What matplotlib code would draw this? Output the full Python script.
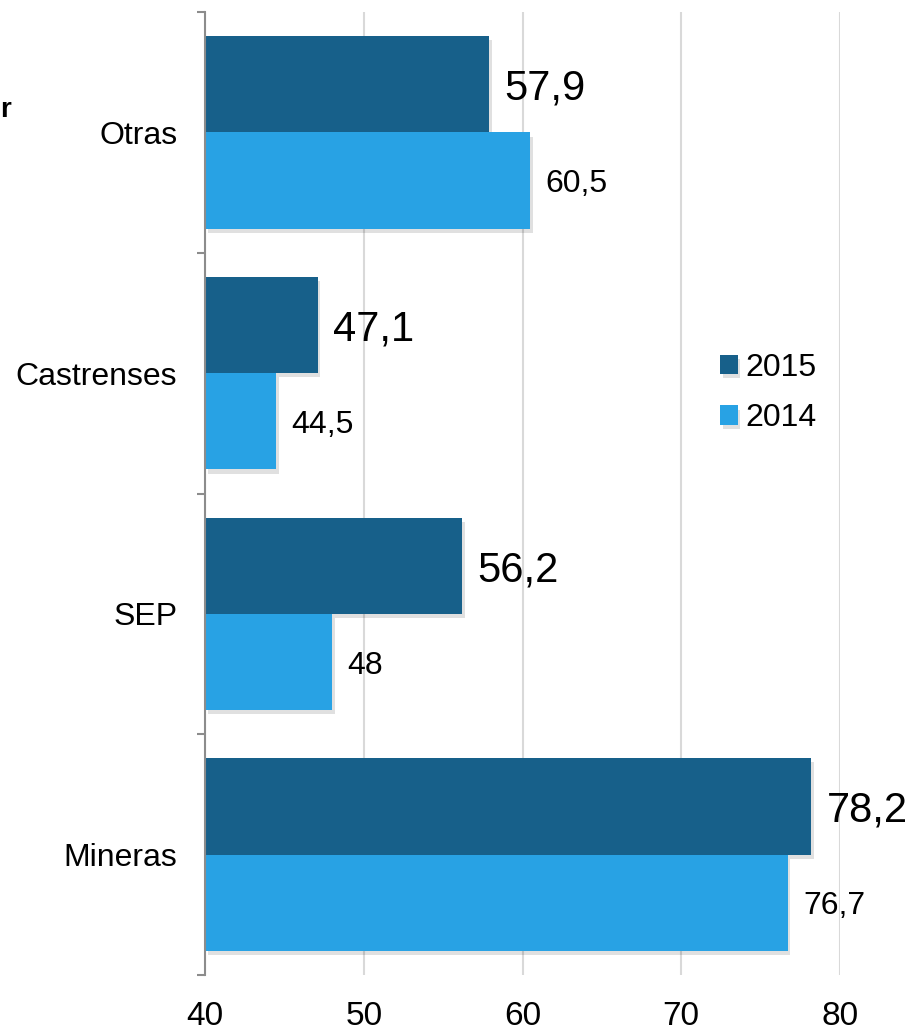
import matplotlib
matplotlib.use("Agg")
import matplotlib.pyplot as plt
import matplotlib.patheffects as pe
from matplotlib import font_manager

categories = ["Mineras", "SEP", "Castrenses", "Otras"]
values_2015 = [78.2, 56.2, 47.1, 57.9]
values_2014 = [76.7, 48.0, 44.5, 60.5]
x_ticks = [40, 50, 60, 70, 80]

dark = "#17608A"
light = "#28A2E4"

plt.rcParams["font.family"] = ["Liberation Sans", "DejaVu Sans"]
names = {f.name for f in font_manager.fontManager.ttflist}
narrow = "Liberation Sans Narrow" if "Liberation Sans Narrow" in names else "Liberation Sans"


def fmt(v):
    return ("%g" % v).replace(".", ",")


fig = plt.figure(figsize=(9.1, 10.32), dpi=100)
ax = fig.add_axes([205 / 910, 1 - 975 / 1032, 635 / 910, 963 / 1032])

ys = list(range(len(categories)))
h = 0.4
shadow = [pe.SimplePatchShadow(offset=(2, -3), alpha=0.12, shadow_rgbFace="black"), pe.Normal()]
b15 = ax.barh([y + h / 2 for y in ys], [v - 40 for v in values_2015], left=40, height=h,
              color=dark, label="2015", zorder=3)
b14 = ax.barh([y - h / 2 for y in ys], [v - 40 for v in values_2014], left=40, height=h,
              color=light, label="2014", zorder=3)
for p in list(b15) + list(b14):
    p.set_path_effects(shadow)

for y, v in zip(ys, values_2015):
    ax.annotate(fmt(v), (v, y + h / 2), xytext=(11, 0), textcoords="offset points",
                va="center_baseline", ha="left", fontsize=30, zorder=5)
for y, v in zip(ys, values_2014):
    ax.annotate(fmt(v), (v, y - h / 2), xytext=(11, 0), textcoords="offset points",
                va="center_baseline", ha="left", fontsize=23, zorder=5)

ax.set_xlim(40, 80)
ax.set_ylim(-0.5, 3.5)
ax.set_xticks(x_ticks)
ax.set_xticklabels([str(t) for t in x_ticks], fontsize=24, family=narrow)
ax.tick_params(axis="x", length=0, pad=19)
ax.xaxis.grid(True, color="#D9D9D9", linewidth=1.5, zorder=0)

ax.set_yticks(ys)
ax.set_yticklabels(categories, fontsize=23)
ax.set_yticks([-0.5, 0.5, 1.5, 2.5, 3.5], minor=True)
ax.tick_params(axis="y", which="major", length=0, pad=20)
ax.tick_params(axis="y", which="minor", length=6, width=1.5, color="#8C8C8C")

for s in ["top", "right", "bottom"]:
    ax.spines[s].set_visible(False)
ax.spines["left"].set_color("#8C8C8C")
ax.spines["left"].set_linewidth(1.5)
ax.spines["left"].set_zorder(4)

ax.legend(handles=[b15, b14], loc="center left", bbox_to_anchor=(720 / 910, 1 - 393 / 1032),
          bbox_transform=fig.transFigure, frameon=False, fontsize=23,
          handlelength=0.55, handleheight=0.55, handletextpad=0.25, labelspacing=0.65,
          borderpad=0, borderaxespad=0)

fig.text(0.0, 1 - 110 / 1032, "r", fontsize=20, fontweight="bold", va="center", ha="left")

fig.savefig("out.png", dpi=100)
